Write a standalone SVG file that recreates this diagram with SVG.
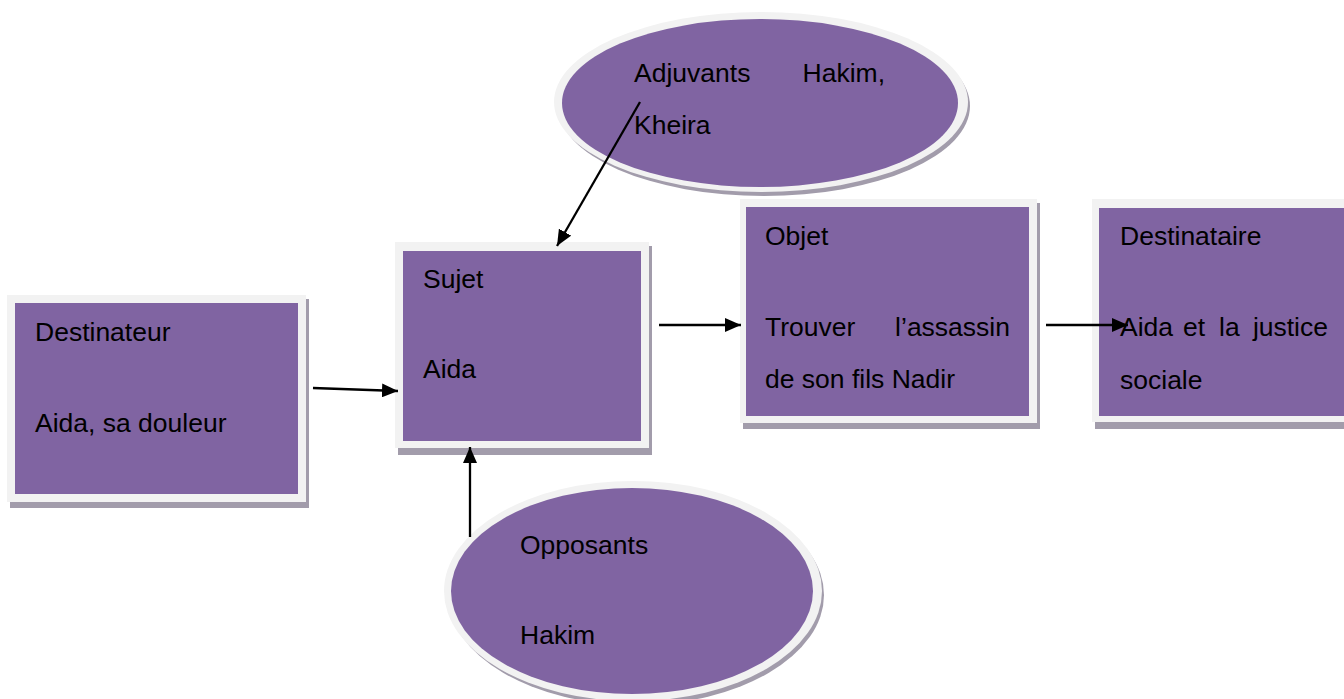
<svg xmlns="http://www.w3.org/2000/svg" width="1344" height="699" viewBox="0 0 1344 699">
<defs>
<style>
.shadow{fill:#a29cab}
.frame{fill:#f2f2f2}
.body{fill:#8064a2}
.t{font-family:"Liberation Sans",Arial,sans-serif;font-size:26.5px;fill:#000}
.c{stroke:#000;stroke-width:2.3;fill:none}
</style>
<marker id="ah" viewBox="0 0 16 14" refX="16" refY="7" markerWidth="16" markerHeight="14" markerUnits="userSpaceOnUse" orient="auto">
<path d="M0,0 L16,7 L0,14 Z" fill="#000"/>
</marker>
</defs>
<rect width="1344" height="699" fill="#fff"/>

<g id="destinateur">
<rect class="shadow" x="10" y="299" width="299" height="209"/>
<rect class="frame" x="7" y="295" width="299" height="207"/>
<rect class="body" x="15" y="303" width="283" height="191"/>
<text class="t" x="35" y="341">Destinateur</text>
<text class="t" x="35" y="432">Aida, sa douleur</text>
</g>

<g id="sujet">
<rect class="shadow" x="398" y="246" width="254" height="209"/>
<rect class="frame" x="395" y="242" width="254" height="206"/>
<rect class="body" x="403" y="251" width="238" height="190"/>
<text class="t" x="423" y="288">Sujet</text>
<text class="t" x="423" y="378">Aida</text>
</g>

<g id="objet">
<rect class="shadow" x="743" y="203" width="297" height="226"/>
<rect class="frame" x="740" y="199" width="297" height="224"/>
<rect class="body" x="746" y="207" width="283" height="209"/>
<text class="t" x="765" y="245">Objet</text>
<text class="t" y="336"><tspan x="765">Trouver</tspan><tspan x="1010" text-anchor="end">l’assassin</tspan></text>
<text class="t" x="765" y="388">de son fils Nadir</text>
</g>

<g id="destinataire">
<rect class="shadow" x="1095" y="203" width="260" height="226"/>
<rect class="frame" x="1092" y="199" width="260" height="223"/>
<rect class="body" x="1099" y="208" width="250" height="208"/>
<text class="t" x="1120" y="245">Destinataire</text>
<text class="t" y="336"><tspan x="1120">Aida</tspan><tspan x="1183">et</tspan><tspan x="1219">la</tspan><tspan x="1328" text-anchor="end">justice</tspan></text>
<text class="t" x="1120" y="389">sociale</text>
</g>

<g id="adjuvants">
<ellipse class="shadow" cx="764" cy="106" rx="206" ry="90"/>
<ellipse class="frame" cx="761" cy="102" rx="207" ry="90"/>
<ellipse class="body" cx="760" cy="103" rx="198" ry="84"/>
<text class="t" y="82"><tspan x="634">Adjuvants</tspan><tspan x="885" text-anchor="end">Hakim,</tspan></text>
<text class="t" x="634" y="134">Kheira</text>
</g>

<g id="opposants">
<ellipse class="shadow" cx="636" cy="595" rx="188" ry="110"/>
<ellipse class="frame" cx="633" cy="591" rx="189" ry="110"/>
<ellipse class="body" cx="632" cy="591" rx="181" ry="103"/>
<text class="t" x="520" y="554">Opposants</text>
<text class="t" x="520" y="644">Hakim</text>
</g>

<g id="connectors">
<line class="c" x1="313" y1="388" x2="398" y2="391" marker-end="url(#ah)"/>
<line class="c" x1="659" y1="325" x2="741" y2="325" marker-end="url(#ah)"/>
<line class="c" x1="1046" y1="325" x2="1128" y2="325" marker-end="url(#ah)"/>
<line class="c" x1="640" y1="102" x2="557" y2="246" marker-end="url(#ah)"/>
<line class="c" x1="470" y1="537" x2="470" y2="447" marker-end="url(#ah)"/>
</g>
</svg>
